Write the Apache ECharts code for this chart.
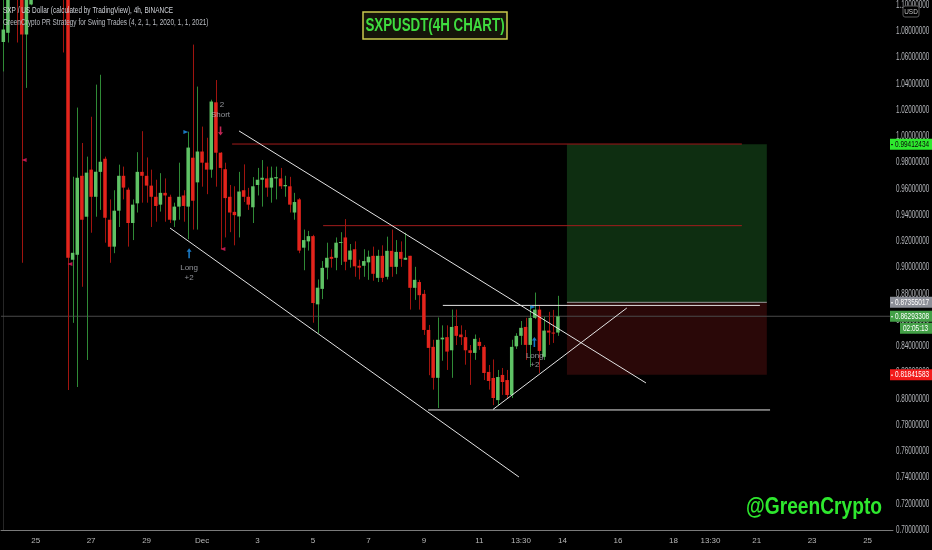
<!DOCTYPE html>
<html><head><meta charset="utf-8">
<script src="https://cdn.jsdelivr.net/npm/echarts@6/dist/echarts.min.js"></script>
<style>html,body{margin:0;padding:0;background:#000;}#c{width:932px;height:550px;}</style>
</head><body><div id="c"></div>
<script>
// ---- time slots (4h candles) ----
const startTime = Date.UTC(2020, 10, 23, 20, 0); // first slot: 23 Nov 20:00
const slotCount = 193;

// ---- candle values (4h) ----
const opens = [1.072,1.079,1.115,1.140,1.112,1.0777,1.1006,1.145,1.17,1.19,1.17,1.18,1.21,1.18,1.15,
0.9060,0.9098,0.970,0.9388,0.9747,0.954,0.973,0.983,0.9365,0.916,0.9434,0.970,0.9594,0.934,0.949,
0.973,0.970,0.9625,0.954,0.948,0.957,0.954,0.936,0.9465,0.955,0.9465,0.9838,0.965,0.9885,0.980,
0.9747,1.026,0.9876,0.975,0.954,0.9425,0.939,0.959,0.954,0.946,0.963,0.967,0.968,0.961,0.968,
0.968,0.962,0.962,0.942,0.952,0.9152,0.920,0.924,0.872,0.8838,0.900,0.9082,0.9075,0.919,0.923,
0.906,0.914,0.9014,0.9014,0.904,0.909,0.8922,0.909,0.893,0.9128,0.9006,0.912,0.906,0.909,0.8846,
0.889,0.880,0.8525,0.8396,0.816,0.8453,0.847,0.837,0.8555,0.849,0.847,0.837,0.835,0.8434,0.8396,
0.8205,0.8159,0.799,0.8182,0.8143,0.8029,0.840,0.848,0.8548,0.8411,0.8617,0.868,0.832,0.852,0.8505,0.8505];
const highs = [1.120,1.140,1.160,1.150,1.118,1.130,1.160,1.19,1.21,1.22,1.20,1.23,1.23,1.20,1.16,
0.9693,1.022,0.995,0.9846,1.015,1.0395,1.047,0.9846,0.952,0.959,0.9785,0.977,0.961,0.952,0.988,
1.004,0.984,0.9747,0.967,0.972,0.968,0.9556,0.9495,0.980,0.959,1.0036,1.070,1.038,1.0075,0.999,
1.028,1.043,0.988,0.980,0.963,0.962,0.973,0.9787,0.9608,0.969,0.976,0.982,0.977,0.977,0.977,
0.976,0.970,0.9692,0.957,0.953,0.929,0.928,0.925,0.891,0.905,0.919,0.914,0.923,0.927,0.937,
0.918,0.920,0.906,0.914,0.913,0.916,0.9136,0.917,0.9236,0.929,0.921,0.920,0.9266,0.909,0.9006,
0.8907,0.883,0.8563,0.845,0.862,0.856,0.856,0.868,0.868,0.856,0.8525,0.841,0.849,0.8465,0.841,
0.8258,0.830,0.822,0.8235,0.822,0.845,0.850,0.8593,0.8617,0.8708,0.881,0.8708,0.8625,0.8663,0.8678,0.8785];
const lows = [1.0495,1.0716,1.108,1.0716,0.9037,1.037,1.100,1.13,1.15,1.16,1.14,1.16,1.17,1.064,0.8067,
0.8579,0.809,0.8854,0.8296,0.9266,0.9388,0.944,0.919,0.9037,0.911,0.931,0.952,0.916,0.921,0.942,
0.9495,0.9495,0.931,0.935,0.9427,0.935,0.934,0.931,0.9365,0.935,0.9216,0.929,0.929,0.9617,0.956,
0.9685,0.9617,0.914,0.923,0.927,0.917,0.923,0.950,0.944,0.934,0.955,0.9465,0.954,0.9495,0.952,
0.960,0.954,0.942,0.9365,0.911,0.898,0.913,0.858,0.850,0.876,0.891,0.900,0.898,0.902,0.898,
0.900,0.893,0.891,0.893,0.8907,0.890,0.889,0.889,0.891,0.893,0.895,0.9006,0.906,0.868,0.8754,
0.868,0.8487,0.818,0.807,0.793,0.829,0.822,0.816,0.841,0.841,0.826,0.8106,0.8297,0.8373,0.8143,
0.807,0.7952,0.7952,0.803,0.8006,0.8006,0.838,0.8411,0.8297,0.8243,0.8608,0.8197,0.8296,0.8411,0.8426,0.848];
const closes = [1.0815,1.115,1.140,1.112,1.0777,1.115,1.145,1.17,1.19,1.17,1.18,1.21,1.18,1.15,0.9075,
0.9113,0.9685,0.9365,0.9724,0.954,0.9731,0.9807,0.938,0.9159,0.9434,0.970,0.961,0.934,0.948,0.973,
0.970,0.9625,0.954,0.947,0.957,0.955,0.9365,0.9465,0.954,0.947,0.9915,0.951,0.9885,0.980,0.9747,
1.0266,0.9876,0.976,0.953,0.942,0.940,0.958,0.954,0.948,0.962,0.967,0.9685,0.961,0.9685,0.969,
0.962,0.963,0.948,0.950,0.913,0.921,0.924,0.873,0.8847,0.8998,0.9075,0.9067,0.919,0.9195,0.9045,
0.913,0.901,0.900,0.905,0.9083,0.8953,0.909,0.8922,0.9128,0.9006,0.912,0.9067,0.9075,0.8846,0.8907,
0.879,0.8525,0.8388,0.816,0.845,0.8466,0.836,0.8548,0.848,0.847,0.837,0.835,0.8457,0.8403,0.8197,
0.8136,0.8006,0.8166,0.8128,0.8029,0.8396,0.848,0.8541,0.8411,0.8617,0.868,0.8365,0.852,0.8505,0.8503,0.8629];

// ---- axis tick labels ----
const xTickTimes = ['2020-11-25 00:00','2020-11-27 00:00','2020-11-29 00:00','2020-12-01 00:00','2020-12-03 00:00','2020-12-05 00:00','2020-12-07 00:00','2020-12-09 00:00','2020-12-11 00:00','2020-12-12 12:00','2020-12-14 00:00','2020-12-16 00:00','2020-12-18 00:00','2020-12-19 08:00','2020-12-21 00:00','2020-12-23 00:00','2020-12-25 00:00'];
const xTickLabels = ['25','27','29','Dec','3','5','7','9','11','13:30','14','16','18','13:30','21','23','25'];
const yTickValues = [0.70,0.72,0.74,0.76,0.78,0.80,0.82,0.84,0.86,0.88,0.90,0.92,0.94,0.96,0.98,1.00,1.02,1.04,1.06,1.08,1.10];

// ---- drawings (x in slot units, y in price) ----
const trendLines = [
  [51.0, 1.0042, 139.05, 0.8121],
  [36.07, 0.9302, 111.57, 0.7404],
  [91.9, 0.7915, 165.9, 0.7915],
  [95.1, 0.8712, 163.7, 0.8712],
  [105.95, 0.7919, 134.9, 0.8692]
];
const redLevels = [[49.5, 159.8, 0.9942], [69.2, 159.8, 0.932]];
const positionSlots = [121.95, 165.2];
const positionLevels = [0.99412434, 0.87355017, 0.81841583];
const lastPrice = 0.86293308;
const countdown = '02:05:13';

const rightLabelPrices = [0.99412434, 0.87355017, 0.86293308, 0.81841583];
const rightLabelBg = ['#2ee82e', '#8c8f98', '#43a047', '#f21b1b'];
const rightLabelFg = ['#0a0a0a', '#ffffff', '#ffffff', '#ffffff'];

const upArrows = [[40.2, 0.911], [114.9, 0.8433]];
const downArrows = [[47.0, 1.0042]];
const pinkMarks = [[4.5, 0.982], [14.4, 0.9027], [47.5, 0.9142]];
const blueMarks = [[39.5, 1.0034], [114.6, 0.870]];
const signalTexts = [[40.2, 0.8997, 'Long'], [40.2, 0.8921, '+2'], [47.3, 1.024, '2'], [47.0, 1.0163, 'Short'], [115.0, 0.8327, 'Long'], [115.0, 0.8258, '+2']];

// ---- build ----
function pad(n){return (n<10?'0':'')+n;}
const categories = [];
for (let i = 0; i < slotCount; i++) {
  const d = new Date(startTime + i * 4 * 3600 * 1000);
  categories.push(d.getUTCFullYear()+'-'+pad(d.getUTCMonth()+1)+'-'+pad(d.getUTCDate())+' '+pad(d.getUTCHours())+':00');
}
const labelMap = {};
xTickTimes.forEach((t, k) => { labelMap[t] = xTickLabels[k]; });
const candleData = opens.map((o, i) => [i, o, closes[i], lows[i], highs[i]]);

const FONT = "'Liberation Sans', Arial, sans-serif";
const UP_BODY = '#5fc265', UP_WICK = '#2f8a36', DN_BODY = '#e3241c', DN_WICK = '#a0140f';

function renderCandle(params, api) {
  const i = api.value(0), o = api.value(1), c = api.value(2), l = api.value(3), h = api.value(4);
  const up = c >= o;
  const pO = api.coord([i, o]), pC = api.coord([i, c]), pL = api.coord([i, l]), pH = api.coord([i, h]);
  const w = api.size([1, 0])[0] * 0.76;
  const x = pO[0];
  const xw = Math.round(x) + 0.5;
  const top = Math.min(pO[1], pC[1]);
  const bh = Math.max(Math.abs(pO[1] - pC[1]), 1);
  return {type: 'group', children: [
    {type: 'line', shape: {x1: xw, y1: pH[1], x2: xw, y2: pL[1]}, style: {stroke: up ? UP_WICK : DN_WICK, lineWidth: 1}},
    {type: 'rect', shape: {x: x - w / 2, y: top, width: w, height: bh}, style: {fill: up ? UP_BODY : DN_BODY}}
  ]};
}

function renderPosition(params, api) {
  const a = api.coord([positionSlots[0], positionLevels[0]]);
  const b = api.coord([positionSlots[1], positionLevels[1]]);
  const s = api.coord([positionSlots[1], positionLevels[2]]);
  return {type: 'group', children: [
    {type: 'rect', shape: {x: a[0], y: a[1], width: b[0] - a[0], height: b[1] - a[1]}, style: {fill: '#0e2e11'}},
    {type: 'rect', shape: {x: a[0], y: b[1], width: b[0] - a[0], height: s[1] - b[1]}, style: {fill: '#2a0808'}},
    {type: 'line', shape: {x1: a[0], y1: b[1], x2: b[0], y2: b[1]}, style: {stroke: '#9a9a9a', lineWidth: 1}}
  ]};
}

function renderYTick(params, api) {
  const cs = params.coordSys;
  const xr = cs.x + cs.width;
  const y = api.coord([0, api.value(1)])[1];
  return {type: 'text', x: xr + 3, y: y, scaleX: 0.63, scaleY: 1,
    style: {text: api.value(1).toFixed(8), fill: '#b3b5ba', font: '10px ' + FONT, verticalAlign: 'middle', align: 'left'}};
}

function renderRightLabel(params, api) {
  const k = params.dataIndex;
  const cs = params.coordSys;
  const xr = cs.x + cs.width;
  const y = api.coord([0, api.value(1)])[1];
  const children = [
    {type: 'rect', shape: {x: xr - 3, y: y - 5.5, width: 932 - xr + 3, height: 11}, style: {fill: rightLabelBg[k]}},
    {type: 'line', shape: {x1: xr - 2, y1: y + 0.5, x2: xr, y2: y + 0.5}, style: {stroke: rightLabelFg[k], lineWidth: 1}},
    {type: 'text', x: xr + 2, y: y, scaleX: 0.68, style: {text: api.value(1).toFixed(8), fill: rightLabelFg[k], font: '9.5px ' + FONT, verticalAlign: 'middle', align: 'left'}}
  ];
  if (k === 2) {
    children.push({type: 'rect', shape: {x: xr + 7, y: y + 6.5, width: 932 - xr - 7, height: 11}, style: {fill: rightLabelBg[k]}});
    children.push({type: 'text', x: xr + 10, y: y + 12, scaleX: 0.72, style: {text: countdown, fill: '#ffffff', font: '9px ' + FONT, verticalAlign: 'middle', align: 'left'}});
  }
  return {type: 'group', children: children};
}

const series = [];
series.push({type: 'custom', xAxisIndex: 1, yAxisIndex: 0, renderItem: renderPosition, data: [[positionSlots[0], positionLevels[0]]], silent: true, z: 1, clip: true});
series.push({type: 'line', xAxisIndex: 1, data: [[-0.5, lastPrice], [slotCount - 0.5, lastPrice]], symbol: 'none', lineStyle: {color: '#4a4a4a', width: 1}, silent: true, z: 2});
redLevels.forEach(r => series.push({type: 'line', xAxisIndex: 1, data: [[r[0], r[2]], [r[1], r[2]]], symbol: 'none', lineStyle: {color: '#a11c1c', width: 1}, silent: true, z: 3}));
series.push({type: 'custom', xAxisIndex: 0, yAxisIndex: 0, renderItem: renderCandle, data: candleData, clip: true, silent: true, z: 4});
trendLines.forEach(t => series.push({type: 'line', xAxisIndex: 1, data: [[t[0], t[1]], [t[2], t[3]]], symbol: 'none', lineStyle: {color: '#e4e4e4', width: 1}, silent: true, z: 5}));
const UP_ARROW = 'path://M5,0 L10,5 L6.6,5 L6.6,14 L3.4,14 L3.4,5 L0,5 Z';
const DN_ARROW = 'path://M3.4,0 L6.6,0 L6.6,9 L10,9 L5,14 L0,9 L3.4,9 Z';
series.push({type: 'scatter', xAxisIndex: 1, data: upArrows, symbol: UP_ARROW, symbolSize: [5, 10], itemStyle: {color: '#2196f3'}, silent: true, z: 6});
series.push({type: 'scatter', xAxisIndex: 1, data: downArrows, symbol: DN_ARROW, symbolSize: [5, 9], itemStyle: {color: '#f0306a'}, silent: true, z: 6});
series.push({type: 'scatter', xAxisIndex: 1, data: pinkMarks, symbol: 'triangle', symbolRotate: 90, symbolSize: [4, 5], itemStyle: {color: '#e91e63'}, silent: true, z: 6});
series.push({type: 'scatter', xAxisIndex: 1, data: blueMarks, symbol: 'triangle', symbolRotate: -90, symbolSize: [4, 5], itemStyle: {color: '#2196f3'}, silent: true, z: 6});
series.push({type: 'scatter', xAxisIndex: 1, data: signalTexts.map(s => ({value: [s[0], s[1]], name: s[2]})), symbolSize: 0,
  label: {show: true, position: 'inside', formatter: p => p.name, color: '#b4b7be', fontSize: 8, fontFamily: FONT}, silent: true, z: 6});
series.push({type: 'custom', xAxisIndex: 1, yAxisIndex: 0, renderItem: renderYTick, data: yTickValues.map(v => [0, v]), silent: true, z: 10, clip: false});
series.push({type: 'custom', xAxisIndex: 1, yAxisIndex: 0, renderItem: renderRightLabel, data: rightLabelPrices.map(p => [0, p]), silent: true, z: 20, clip: false});

const chart = echarts.init(document.getElementById('c'), null, {renderer: 'canvas'});
chart.setOption({
  backgroundColor: '#000000',
  animation: false,
  graphic: [
    {type: 'text', x: 3, y: 11, scaleX: 0.76, z: 50, style: {text: 'SXP / US Dollar (calculated by TradingView), 4h, BINANCE', fill: '#cfd2d8', font: '8.5px ' + FONT, verticalAlign: 'middle'}},
    {type: 'text', x: 3, y: 23, scaleX: 0.76, z: 50, style: {text: 'GreenCrypto PR Strategy for Swing Trades (4, 2, 1, 1, 2020, 1, 1, 2021)', fill: '#b9bcc2', font: '8.5px ' + FONT, verticalAlign: 'middle'}},
    {type: 'rect', x: 363, y: 12, z: 50, shape: {width: 144, height: 27}, style: {fill: '#15150a', stroke: '#c9c94e', lineWidth: 1.5}},
    {type: 'text', x: 435, y: 26, scaleX: 0.74, z: 51, style: {text: 'SXPUSDT(4H CHART)', fill: '#3fdc3f', font: 'bold 18px ' + FONT, align: 'center', verticalAlign: 'middle'}},
    {type: 'text', x: 746, y: 507, scaleX: 0.8, z: 50, style: {text: '@GreenCrypto', fill: '#2ee82e', font: 'bold 24px ' + FONT, align: 'left', verticalAlign: 'middle'}},
    {type: 'rect', x: 903, y: 6, z: 100, shape: {width: 16, height: 11, r: 2}, style: {fill: '#000', stroke: '#5a5a5a', lineWidth: 1}},
    {type: 'text', x: 911, y: 11.5, scaleX: 0.8, z: 101, style: {text: 'USD', fill: '#c8c8c8', font: '8px ' + FONT, align: 'center', verticalAlign: 'middle'}}
  ],
  grid: {left: 1, right: 39, top: 0, bottom: 20, containLabel: false, outerBoundsMode: 'none'},
  xAxis: [
    {type: 'category', data: categories, boundaryGap: true,
     axisLine: {show: true, lineStyle: {color: '#7a7a7a', width: 1}},
     axisTick: {show: false}, splitLine: {show: false},
     axisLabel: {interval: (idx, v) => labelMap[v] !== undefined, formatter: v => labelMap[v] || '', color: '#b8b8b8', fontSize: 8, fontFamily: FONT, margin: 7}},
    {type: 'value', min: -0.5, max: slotCount - 0.5, show: false}
  ],
  yAxis: [{type: 'value', position: 'right', min: 0.70, max: 1.104, interval: 0.02,
    axisLine: {show: true, lineStyle: {color: '#262626'}}, axisTick: {show: false}, splitLine: {show: false},
    axisLabel: {show: false}}],
  series: series
});
</script></body></html>
